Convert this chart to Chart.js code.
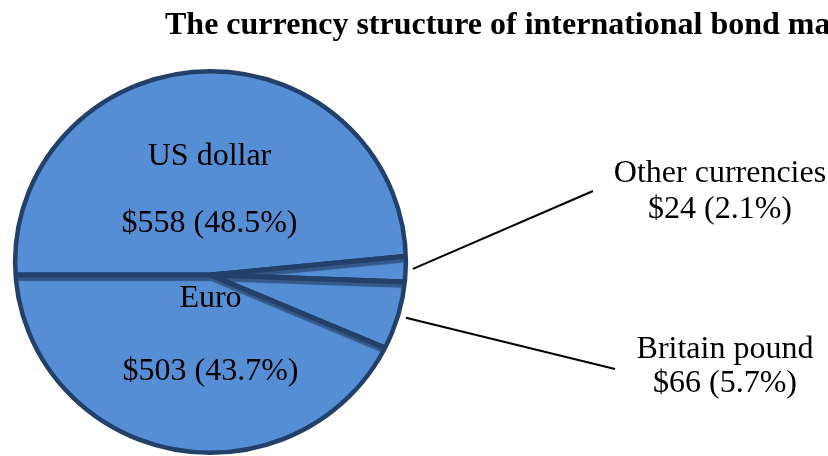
<!DOCTYPE html>
<html>
<head>
<meta charset="utf-8">
<script src="https://cdn.jsdelivr.net/npm/chart.js@4/dist/chart.umd.min.js"></script>
<style>
  html, body { margin: 0; padding: 0; background: #ffffff; overflow: hidden; width: 828px; height: 456px; }
  #wrap { position: absolute; left: 0; top: 0; width: 828px; height: 550px; }
</style>
</head>
<body>
<div id="wrap"><canvas id="c" width="828" height="550"></canvas></div>
<script>
// ---- data ----
const titleText = "The currency structure of international bond markets";
const categories = ["US dollar", "Other currencies", "Britain pound", "Euro"];
const values = [558, 24, 66, 503];
const valueLabels = ["$558 (48.5%)", "$24 (2.1%)", "$66 (5.7%)", "$503 (43.7%)"];

// ---- styling / layout (not data) ----
const fillColor = '#558ED5';
const edgeColor = '#22406A';
// outline of the (slightly tilted) pie, relative to the slices' common vertex
const outline = { dy: -13, rx: 195.4, ry: 190.8, width: 4.5 };
const inside = { 0: { dx: -1, nameY: -110, valY: -43 }, 3: { dx: 0, nameY: 32, valY: 105 } };
const outside = {
  1: { x: 720, nameY: 182, valY: 218, lineEnd: [593, 191], startDist: 202.5 },
  2: { x: 725, nameY: 358, valY: 392, lineEnd: [615, 369], startDist: 200 }
};

function outlinePath(ctx, arc) {
  ctx.beginPath();
  ctx.ellipse(arc.x, arc.y + outline.dy, outline.rx, outline.ry, 0, 0, Math.PI * 2);
}

const tiltPlugin = {
  id: 'tilt',
  beforeDatasetsDraw(chart) {
    const arc = chart.getDatasetMeta(0).data[0];
    const ctx = chart.ctx;
    ctx.save();
    outlinePath(ctx, arc);
    ctx.clip();
    ctx.shadowColor = 'rgba(25,45,75,0.55)';
    ctx.shadowOffsetX = 1;
    ctx.shadowOffsetY = 3.5;
    ctx.shadowBlur = 1;
  },
  afterDatasetsDraw(chart) {
    const ctx = chart.ctx;
    ctx.restore();
    const arc = chart.getDatasetMeta(0).data[0];
    ctx.save();
    outlinePath(ctx, arc);
    ctx.lineWidth = outline.width;
    ctx.strokeStyle = edgeColor;
    ctx.stroke();
    ctx.restore();
  }
};

const labelPlugin = {
  id: 'labels',
  afterDraw(chart) {
    const ctx = chart.ctx;
    const arcs = chart.getDatasetMeta(0).data;
    ctx.save();
    // title
    ctx.fillStyle = '#000';
    ctx.textAlign = 'left';
    ctx.textBaseline = 'alphabetic';
    ctx.font = 'bold 32px "Liberation Serif", "Times New Roman", serif';
    ctx.fillText(titleText, 165, 34);

    ctx.font = '32px "Liberation Serif", "Times New Roman", serif';
    ctx.textAlign = 'center';
    const cx = arcs[0].x, cy = arcs[0].y;
    Object.keys(inside).forEach(k => {
      const p = inside[k];
      ctx.fillText(categories[k], cx + p.dx, cy + p.nameY);
      ctx.fillText(valueLabels[k], cx + p.dx, cy + p.valY);
    });
    Object.keys(outside).forEach(k => {
      const p = outside[k];
      const a = arcs[k];
      const mid = (a.startAngle + a.endAngle) / 2;
      const sx = a.x + Math.cos(mid) * p.startDist;
      const sy = a.y + Math.sin(mid) * p.startDist;
      ctx.strokeStyle = '#000';
      ctx.lineWidth = 2;
      ctx.beginPath();
      ctx.moveTo(sx, sy);
      ctx.lineTo(p.lineEnd[0], p.lineEnd[1]);
      ctx.stroke();
      ctx.fillText(categories[k], p.x, p.nameY);
      ctx.fillText(valueLabels[k], p.x, p.valY);
    });
    ctx.restore();
  }
};

new Chart(document.getElementById('c'), {
  type: 'pie',
  data: {
    labels: categories,
    datasets: [{
      data: values,
      backgroundColor: fillColor,
      borderColor: edgeColor,
      borderWidth: 5
    }]
  },
  options: {
    responsive: false,
    animation: false,
    rotation: -90,
    radius: 215,
    layout: { padding: { left: 0, right: 407, top: 0, bottom: 0 } },
    plugins: {
      legend: { display: false },
      tooltip: { enabled: false },
      title: { display: false }
    }
  },
  plugins: [tiltPlugin, labelPlugin]
});
</script>
</body>
</html>
